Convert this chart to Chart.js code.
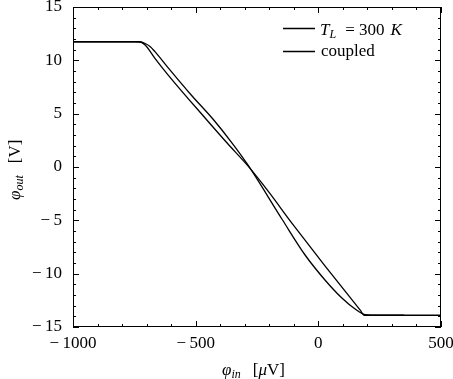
<!DOCTYPE html>
<html><head><meta charset="utf-8">
<script src="https://cdn.jsdelivr.net/npm/chart.js@4"></script>
<style>html,body{margin:0;padding:0;background:#fff}#wrap{width:453px;height:379px}</style>
</head><body><div id="wrap"><canvas id="c" width="453" height="379"></canvas></div>
<script>
// ---- data ----
const xTicks = [-1000, -500, 0, 500];
const xTickLabels = ['\u2212\u20091000', '\u2212\u2009500', '0', '500'];
const yTicks = [-15, -10, -5, 0, 5, 10, 15];
const yTickLabels = ['\u2212\u200915', '\u2212\u200910', '\u2212\u20095', '0', '5', '10', '15'];
const xMinorStep = 100;
const yMinorStep = 1;
const seriesNames = ['T_L = 300 K', 'coupled'];

const tlX = [-1000, -730, -706, -666, -612, -458, -370, -287, -200, -111, 170, 188, 350];
const tlY = [11.74, 11.74, 11.44, 10.19, 8.62, 4.5, 2.2, 0.1, -2.4, -5.16, -13.4, -13.9, -13.9];

const cpX = [-1000, -745, -727, -706, -686, -666, -612, -520, -428, -350, -287, -146, -54, 27, 96, 150, 190, 251, 500];
const cpY = [11.74, 11.74, 11.72, 11.58, 11.3, 10.81, 9.3, 6.8, 4.45, 2.2, 0.19, -4.97, -8.25, -10.59, -12.28, -13.31, -13.83, -13.9, -13.9];

const FONT = 'Liberation Serif';

function toPts(xs, ys) { return xs.map((x, i) => ({ x: x, y: ys[i] })); }

function drawRuns(ctx, x, y, runs) {
  let cx = x;
  for (const r of runs) {
    if (r.gap) { cx += r.gap; continue; }
    ctx.font = r.font;
    ctx.fillText(r.t, cx, y + (r.dy || 0));
    cx += ctx.measureText(r.t).width;
  }
}

const decor = {
  id: 'decor',
  afterDraw(chart) {
    const ctx = chart.ctx;
    const a = chart.chartArea;
    const xs = chart.scales.x, ys = chart.scales.y;
    ctx.save();
    ctx.strokeStyle = '#000';
    ctx.fillStyle = '#000';
    ctx.lineWidth = 1;
    ctx.strokeRect(Math.round(a.left) + 0.5, Math.round(a.top) + 0.5, Math.round(a.right - a.left) - 1, Math.round(a.bottom - a.top) - 1);
    ctx.beginPath();
    for (let v = xs.min; v <= xs.max + 1e-9; v += xMinorStep) {
      const px = Math.round(xs.getPixelForValue(v)) + 0.5;
      const len = xTicks.includes(v) ? 6 : 3;
      ctx.moveTo(px, a.bottom); ctx.lineTo(px, a.bottom - len);
      ctx.moveTo(px, a.top); ctx.lineTo(px, a.top + len);
    }
    for (let v = ys.min; v <= ys.max + 1e-9; v += yMinorStep) {
      const py = Math.round(ys.getPixelForValue(v)) + 0.5;
      const len = yTicks.includes(v) ? 6 : 3;
      ctx.moveTo(a.left, py); ctx.lineTo(a.left + len, py);
      ctx.moveTo(a.right, py); ctx.lineTo(a.right - len, py);
    }
    ctx.stroke();

    ctx.lineWidth = 1.3;
    ctx.beginPath();
    ctx.moveTo(283, 28.5); ctx.lineTo(315, 28.5);
    ctx.moveTo(283, 51.5); ctx.lineTo(315, 51.5);
    ctx.stroke();
    ctx.textBaseline = 'alphabetic';
    ctx.textAlign = 'left';
    const it = 'italic 17px "' + FONT + '"';
    const up = '17px "' + FONT + '"';
    const sub = 'italic 12px "' + FONT + '"';
    drawRuns(ctx, 320, 35, [
      { t: 'T', font: it }, { t: 'L', font: sub, dy: 3 }, { gap: 9 },
      { t: '= 300', font: up }, { gap: 6 }, { t: 'K', font: it }
    ]);
    drawRuns(ctx, 321, 56, [{ t: seriesNames[1], font: up }]);

    drawRuns(ctx, 222, 375, [
      { t: '\u03C6', font: it }, { t: 'in', font: sub, dy: 3 }, { gap: 12 },
      { t: '[', font: up }, { t: '\u03BC', font: it }, { t: 'V]', font: up }
    ]);
    ctx.translate(20, 200);
    ctx.rotate(-Math.PI / 2);
    drawRuns(ctx, 0, 0, [
      { t: '\u03C6', font: it }, { t: 'out', font: sub, dy: 3 }, { gap: 12 },
      { t: '[V]', font: up }
    ]);
    ctx.restore();
  }
};

new Chart(document.getElementById('c'), {
  type: 'line',
  data: {
    datasets: [
      { label: seriesNames[0], data: toPts(tlX, tlY), borderColor: '#000', borderWidth: 1.3, pointRadius: 0, fill: false, cubicInterpolationMode: 'monotone' },
      { label: seriesNames[1], data: toPts(cpX, cpY), borderColor: '#000', borderWidth: 1.3, pointRadius: 0, fill: false, cubicInterpolationMode: 'monotone' }
    ]
  },
  options: {
    responsive: false,
    animation: false,
    devicePixelRatio: 1,
    layout: { padding: { left: 0, right: 12, top: 7, bottom: 0 } },
    plugins: { legend: { display: false }, tooltip: { enabled: false } },
    scales: {
      x: {
        type: 'linear', min: -1000, max: 500,
        afterBuildTicks: s => { s.ticks = xTicks.map(v => ({ value: v })); },
        afterFit: s => { s.height = 52; s.paddingLeft = 0; s.paddingRight = 0; },
        ticks: { callback: (v, i) => xTickLabels[i], color: '#000', font: { family: FONT, size: 17 }, padding: 6, maxRotation: 0, autoSkip: false },
        grid: { display: false, drawTicks: false },
        border: { display: false }
      },
      y: {
        type: 'linear', min: -15, max: 15,
        afterBuildTicks: s => { s.ticks = yTicks.map(v => ({ value: v })); },
        afterFit: s => { s.width = 73; s.paddingTop = 0; s.paddingBottom = 0; },
        ticks: { callback: (v, i) => yTickLabels[i], color: '#000', font: { family: FONT, size: 17 }, padding: 11, autoSkip: false },
        grid: { display: false, drawTicks: false },
        border: { display: false }
      }
    }
  },
  plugins: [decor]
});
</script>
</body></html>
